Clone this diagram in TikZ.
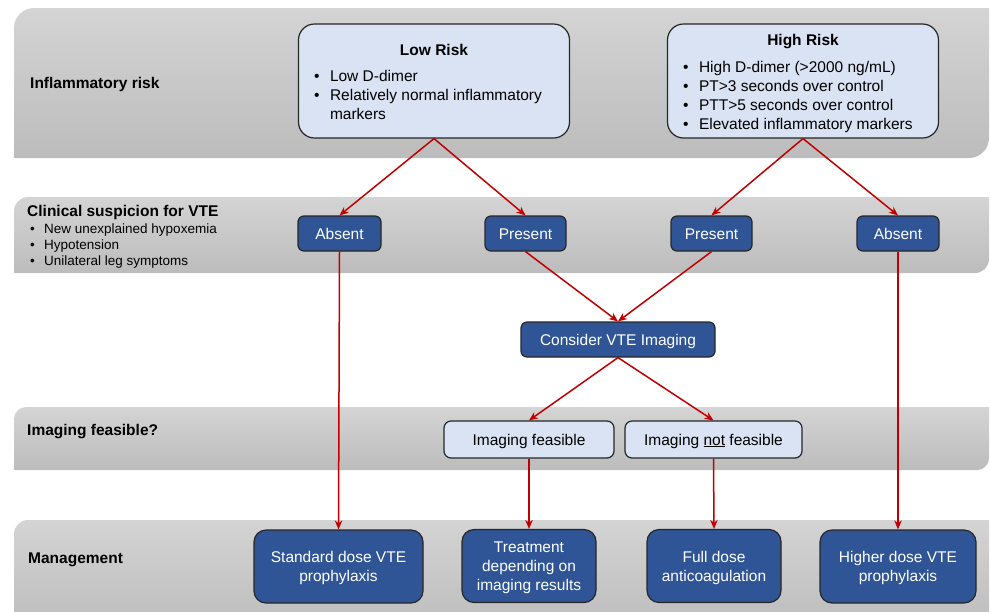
\documentclass[tikz,border=0pt]{standalone}
\usepackage{fontspec}
\setmainfont{Liberation Sans}
\usepackage{array}
\usetikzlibrary{arrows.meta,positioning}

\definecolor{boxblue}{RGB}{47,85,151}
\definecolor{boxlight}{RGB}{218,227,243}
\definecolor{arrowred}{RGB}{192,0,0}
\definecolor{bandtop}{RGB}{212,212,212}
\definecolor{bandbot}{RGB}{188,188,188}
\definecolor{boxline}{RGB}{38,38,38}

\begin{document}
\begin{tikzpicture}[x=1pt,y=-1pt,
    font=\fontsize{15.5}{19}\selectfont,
    band/.style={top color=bandtop,bottom color=bandbot},
    riskbox/.style={draw=boxline,line width=1.2pt,fill=boxlight,rounded corners=16pt,
      minimum width=271pt,minimum height=114pt,inner sep=0pt},
    choice/.style={draw=boxline,line width=1.2pt,fill=boxblue,text=white,
      rounded corners=6pt,minimum height=35pt,inner sep=0pt,text height=11pt,text depth=0pt},
    option/.style={draw=boxline,line width=1.2pt,fill=boxlight,rounded corners=7pt,
      minimum height=37pt,inner sep=0pt,text height=11pt,text depth=0pt},
    outcome/.style={draw=boxline,line width=1.2pt,fill=boxblue,text=white,
      rounded corners=12pt,minimum height=73pt,inner sep=0pt,align=center,text depth=-2.7pt},
    rowlabel/.style={anchor=west,inner sep=0pt,text height=11pt,text depth=0pt,
      font=\fontsize{15.5}{19}\selectfont\bfseries},
    flow/.style={draw=arrowred,line width=1.5pt,-{Stealth[length=9pt,width=7.5pt]}}]
  \useasboundingbox (0,0) rectangle (990,611);

  % grey bands
  \foreach \t/\b/\r in {8/158/20,197/273/14,407/470/12,520/630/14}
    \shade[band] (14,\b) -- (14,\t+\r) arc[start angle=180,end angle=270,radius=\r]
      -- (989,\t) -- (989,\b-\r) arc[start angle=0,end angle=90,radius=\r] -- cycle;

  % row labels
  \node[rowlabel] (lrisk) at (30,83) {Inflammatory risk};
  \node[rowlabel] (lsusp) at (27,211) {Clinical suspicion for VTE};
  \node[anchor=north west,inner sep=0pt,font=\fontsize{13.5}{16}\selectfont] (lsigns) at (27,222)
    {\begin{tabular}{@{\hspace{3pt}}p{14pt}@{}l@{}}
      \textbullet & New unexplained hypoxemia\\
      \textbullet & Hypotension\\
      \textbullet & Unilateral leg symptoms
    \end{tabular}};
  \node[rowlabel] (limg) at (27,430) {Imaging feasible?};
  \node[rowlabel] (lmgmt) at (28,558) {Management};

  % risk groups
  \node[riskbox] (low) at (434,81)
    {\raisebox{-2.5pt}[\height][\depth]{\begin{tabular}{@{\hspace{2pt}}p{16pt}@{}>{\raggedright\arraybackslash}p{226pt}@{}}
      \multicolumn{2}{c}{\bfseries Low Risk}\\[7.5pt]
      \textbullet & Low D-dimer\\
      \textbullet & Relatively normal inflammatory markers
    \end{tabular}}};
  \node[riskbox] (high) at (803,81)
    {\raisebox{-2.5pt}[\height][\depth]{\begin{tabular}{@{\hspace{2pt}}p{16pt}@{}>{\raggedright\arraybackslash}p{226pt}@{}}
      \multicolumn{2}{c}{\bfseries High Risk}\\[7.5pt]
      \textbullet & High D-dimer (>2000 ng/mL)\\
      \textbullet & PT>3 seconds over control\\
      \textbullet & PTT>5 seconds over control\\
      \textbullet & Elevated inflammatory markers
    \end{tabular}}};

  % suspicion
  \node[choice,minimum width=83pt] (absL) at (339.5,233.5) {Absent};
  \node[choice,minimum width=81pt] (preL) at (525.5,233.5) {Present};
  \node[choice,minimum width=81pt] (preH) at (711.5,233.5) {Present};
  \node[choice,minimum width=82pt] (absH) at (898,233.5) {Absent};
  \node[choice,minimum width=194pt] (imaging) at (618,339.5) {Consider VTE Imaging};

  % feasibility
  \node[option,minimum width=170pt] (feas) at (529,439.5) {Imaging feasible};
  \node[option,minimum width=177pt] (notfeas) at (713.5,439.5) {Imaging \underline{not} feasible};

  % management
  \node[outcome,minimum width=169pt] (std) at (338.5,566.5) {Standard dose VTE\\prophylaxis};
  \node[outcome,minimum width=134pt] (treat) at (529,566) {Treatment\\depending on\\imaging results};
  \node[outcome,minimum width=134pt] (full) at (714,566) {Full dose\\anticoagulation};
  \node[outcome,minimum width=156pt] (higher) at (898,566.5) {Higher dose VTE\\prophylaxis};

  % connectors
  \draw[flow] (low.south) -- (absL.north);
  \draw[flow] (low.south) -- (preL.north);
  \draw[flow] (high.south) -- (preH.north);
  \draw[flow] (high.south) -- (absH.north);
  \draw[flow] (preL.south) -- (imaging.north);
  \draw[flow] (preH.south) -- (imaging.north);
  \draw[flow] (imaging.south) -- (feas.north);
  \draw[flow] (imaging.south) -- (notfeas.north);
  \draw[flow] (absL.south) -- (std.north);
  \draw[flow] (feas.south) -- (treat.north);
  \draw[flow] (notfeas.south) -- (full.north);
  \draw[flow] (absH.south) -- (higher.north);
\end{tikzpicture}
\end{document}
